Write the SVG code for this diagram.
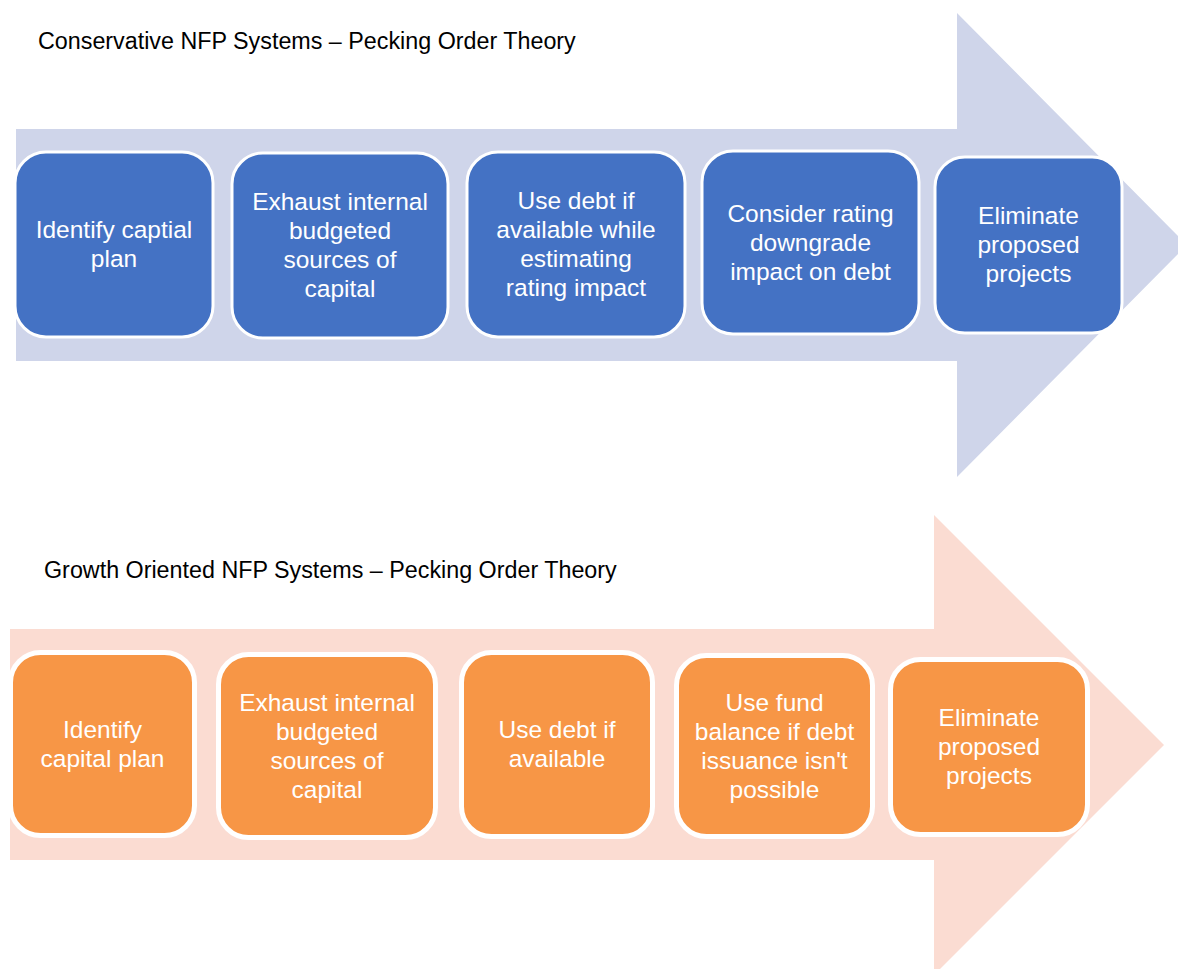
<svg xmlns="http://www.w3.org/2000/svg" width="1178" height="969" viewBox="0 0 1178 969">
  <style>
    .title { font-family: "Liberation Sans", Arial, sans-serif; font-size: 23.3px; fill: #000000; }
    .label { font-family: "Liberation Sans", Arial, sans-serif; font-size: 24.5px; fill: #ffffff; text-anchor: middle; }
    .arrow-blue { fill: #CFD5EA; }
    .arrow-peach { fill: #FBDCD2; }
    .step-blue { fill: #4472C4; stroke: #ffffff; stroke-width: 3; }
    .step-orange { fill: #F79646; stroke: #ffffff; stroke-width: 5; }
  </style>

  <rect width="1178" height="969" fill="#ffffff"/>

  <!-- Conservative sequence -->
  <text class="title" x="38" y="48.5">Conservative NFP Systems – Pecking Order Theory</text>
  <polygon id="arrow-conservative" class="arrow-blue" points="16,129 957,129 957,13 1187,245 957,477 957,361 16,361"/>

  <g id="c1">
    <rect class="step-blue" x="15" y="152" width="198" height="185" rx="31"/>
    <text class="label" x="114"><tspan x="114" y="238">Identify captial</tspan><tspan x="114" y="267">plan</tspan></text>
  </g>
  <g id="c2">
    <rect class="step-blue" x="232" y="153" width="216" height="185" rx="31"/>
    <text class="label"><tspan x="340" y="210">Exhaust internal</tspan><tspan x="340" y="239">budgeted</tspan><tspan x="340" y="268">sources of</tspan><tspan x="340" y="297">capital</tspan></text>
  </g>
  <g id="c3">
    <rect class="step-blue" x="467" y="152" width="218" height="185" rx="31"/>
    <text class="label"><tspan x="576" y="209">Use debt if</tspan><tspan x="576" y="238">available while</tspan><tspan x="576" y="267">estimating</tspan><tspan x="576" y="296">rating impact</tspan></text>
  </g>
  <g id="c4">
    <rect class="step-blue" x="702" y="151" width="217" height="183" rx="31"/>
    <text class="label"><tspan x="810.5" y="221.5">Consider rating</tspan><tspan x="810.5" y="250.5">downgrade</tspan><tspan x="810.5" y="279.5">impact on debt</tspan></text>
  </g>
  <g id="c5">
    <rect class="step-blue" x="935" y="157" width="187" height="176" rx="30"/>
    <text class="label"><tspan x="1028.5" y="224">Eliminate</tspan><tspan x="1028.5" y="253">proposed</tspan><tspan x="1028.5" y="282">projects</tspan></text>
  </g>

  <!-- Growth oriented sequence -->
  <text class="title" x="44" y="578">Growth Oriented NFP Systems – Pecking Order Theory</text>
  <polygon id="arrow-growth" class="arrow-peach" points="10,629 934,629 934,515 1164,745 934,975 934,860 10,860"/>

  <g id="g1">
    <rect class="step-orange" x="10.5" y="652.5" width="184" height="183" rx="30"/>
    <text class="label"><tspan x="102.5" y="737.5">Identify</tspan><tspan x="102.5" y="766.5">capital plan</tspan></text>
  </g>
  <g id="g2">
    <rect class="step-orange" x="218.5" y="654.5" width="217" height="183" rx="30"/>
    <text class="label"><tspan x="327" y="710.5">Exhaust internal</tspan><tspan x="327" y="739.5">budgeted</tspan><tspan x="327" y="768.5">sources of</tspan><tspan x="327" y="797.5">capital</tspan></text>
  </g>
  <g id="g3">
    <rect class="step-orange" x="461.5" y="652.5" width="191" height="184" rx="30"/>
    <text class="label"><tspan x="557" y="738">Use debt if</tspan><tspan x="557" y="767">available</tspan></text>
  </g>
  <g id="g4">
    <rect class="step-orange" x="676.5" y="655.5" width="196" height="181" rx="30"/>
    <text class="label"><tspan x="774.5" y="710.5">Use fund</tspan><tspan x="774.5" y="739.5">balance if debt</tspan><tspan x="774.5" y="768.5">issuance isn't</tspan><tspan x="774.5" y="797.5">possible</tspan></text>
  </g>
  <g id="g5">
    <rect class="step-orange" x="890.5" y="659.5" width="197" height="175" rx="30"/>
    <text class="label"><tspan x="989" y="726">Eliminate</tspan><tspan x="989" y="755">proposed</tspan><tspan x="989" y="784">projects</tspan></text>
  </g>

  <!-- the steps follow one another along each arrow; no separate connectors are drawn -->
  <g id="connectors"/>
</svg>
